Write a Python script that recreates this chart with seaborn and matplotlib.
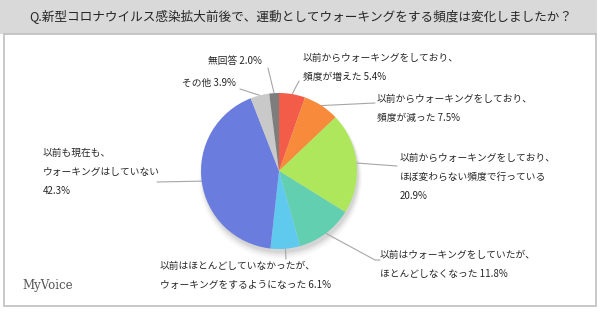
import numpy as np
import matplotlib
matplotlib.use("Agg")
import matplotlib.pyplot as plt
import seaborn as sns
from matplotlib.patches import Rectangle

sns.set_theme(style="white")
plt.rcParams['font.family'] = ['Noto Sans CJK JP', 'DejaVu Sans']

title = "Q.新型コロナウイルス感染拡大前後で、運動としてウォーキングをする頻度は変化しましたか？"
categories = [
    "以前からウォーキングをしており、\n頻度が増えた",
    "以前からウォーキングをしており、\n頻度が減った",
    "以前からウォーキングをしており、\nほぼ変わらない頻度で行っている\n",
    "以前はウォーキングをしていたが、\nほとんどしなくなった",
    "以前はほとんどしていなかったが、\nウォーキングをするようになった",
    "以前も現在も、\nウォーキングはしていない\n",
    "その他",
    "無回答",
]
values = [5.4, 7.5, 20.9, 11.8, 6.1, 42.3, 3.9, 2.0]
colors = ["#f25c48", "#f88a3c", "#aee75c", "#62d0b0", "#60c9ee", "#6a7ddf", "#c9c9c9", "#7d7d7d"]

W, H = 600, 312
fig = plt.figure(figsize=(6, 3.12), dpi=100)
fig.patch.set_facecolor("white")

# frame and title bar
fig.patches.append(Rectangle((0, 1 - 34 / H), 597 / W, 34 / H, transform=fig.transFigure,
                             facecolor="#d9d9d9", edgecolor="none", zorder=0))
fig.patches.append(Rectangle((3.5 / W, 1 - 306 / H), 592 / W, (306 - 34) / H, transform=fig.transFigure,
                             facecolor="none", edgecolor="#bfbfbf", lw=1.2, zorder=1))
fig.text(301 / W, 1 - 17 / H, title, ha="center", va="center", fontsize=9.1, color="#262626")

# pie axes
cx, cy, R = 279, 171, 78
S = 1.6
ax = fig.add_axes([(cx - R * S) / W, (H - cy - R * S) / H, 2 * R * S / W, 2 * R * S / H])

# soft shadow
for i, a in enumerate(np.linspace(0.05, 0.015, 5)):
    ax.add_patch(plt.Circle((0.02, -0.05 - i * 0.01), 1.0 + i * 0.012, color="black", alpha=a, lw=0, zorder=0))

wedges, _ = ax.pie(values, colors=colors, startangle=90, counterclock=False, radius=1.0,
                   wedgeprops=dict(linewidth=0, zorder=2))
ax.set_xlim(-S, S)
ax.set_ylim(-S, S)
ax.set_aspect("equal")
ax.axis("off")

def d(px, py):
    return ((px - cx) / R, (cy - py) / R)

# label layout: (text x px, first line center y px, ha, line-end px points)
layout = [
    (303, 60, "left", [(299, 81)]),
    (377, 101, "left", [(375, 103)]),
    (400, 160, "left", [(397, 166)]),
    (380, 257, "left", [(375, 260), (380, 260)]),
    (160, 268, "left", [(286, 259)]),
    (43, 155, "left", [(157, 182)]),
    (236, 85, "right", [(240, 89)]),
    (262, 63, "right", [(268, 68)]),
]

for w, cat, v, (tx, ty, ha, pts) in zip(wedges, categories, values, layout):
    ang = np.deg2rad((w.theta1 + w.theta2) / 2)
    ex, ey = np.cos(ang) * 1.0, np.sin(ang) * 1.0
    xs = [ex] + [d(*p)[0] for p in pts]
    ys = [ey] + [d(*p)[1] for p in pts]
    ax.plot(xs, ys, color="#a6a6a6", lw=0.8, zorder=1, clip_on=False)
    label = cat.rstrip("\n")
    if cat.endswith("\n"):
        txt = label + "\n" + f"{v:.1f}%"
    else:
        txt = label + f" {v:.1f}%"
    fig.text(tx / W, 1 - (ty - 7) / H, txt, ha=ha, va="top", fontsize=7.0,
             color="#262626", linespacing=2.1)

# logo
fig.text(22 / W, 1 - 286 / H, "MyVoice", ha="left", va="center", fontsize=8.5,
         color="#555555", family=["DejaVu Serif"])

fig.savefig("out.png", dpi=100)
